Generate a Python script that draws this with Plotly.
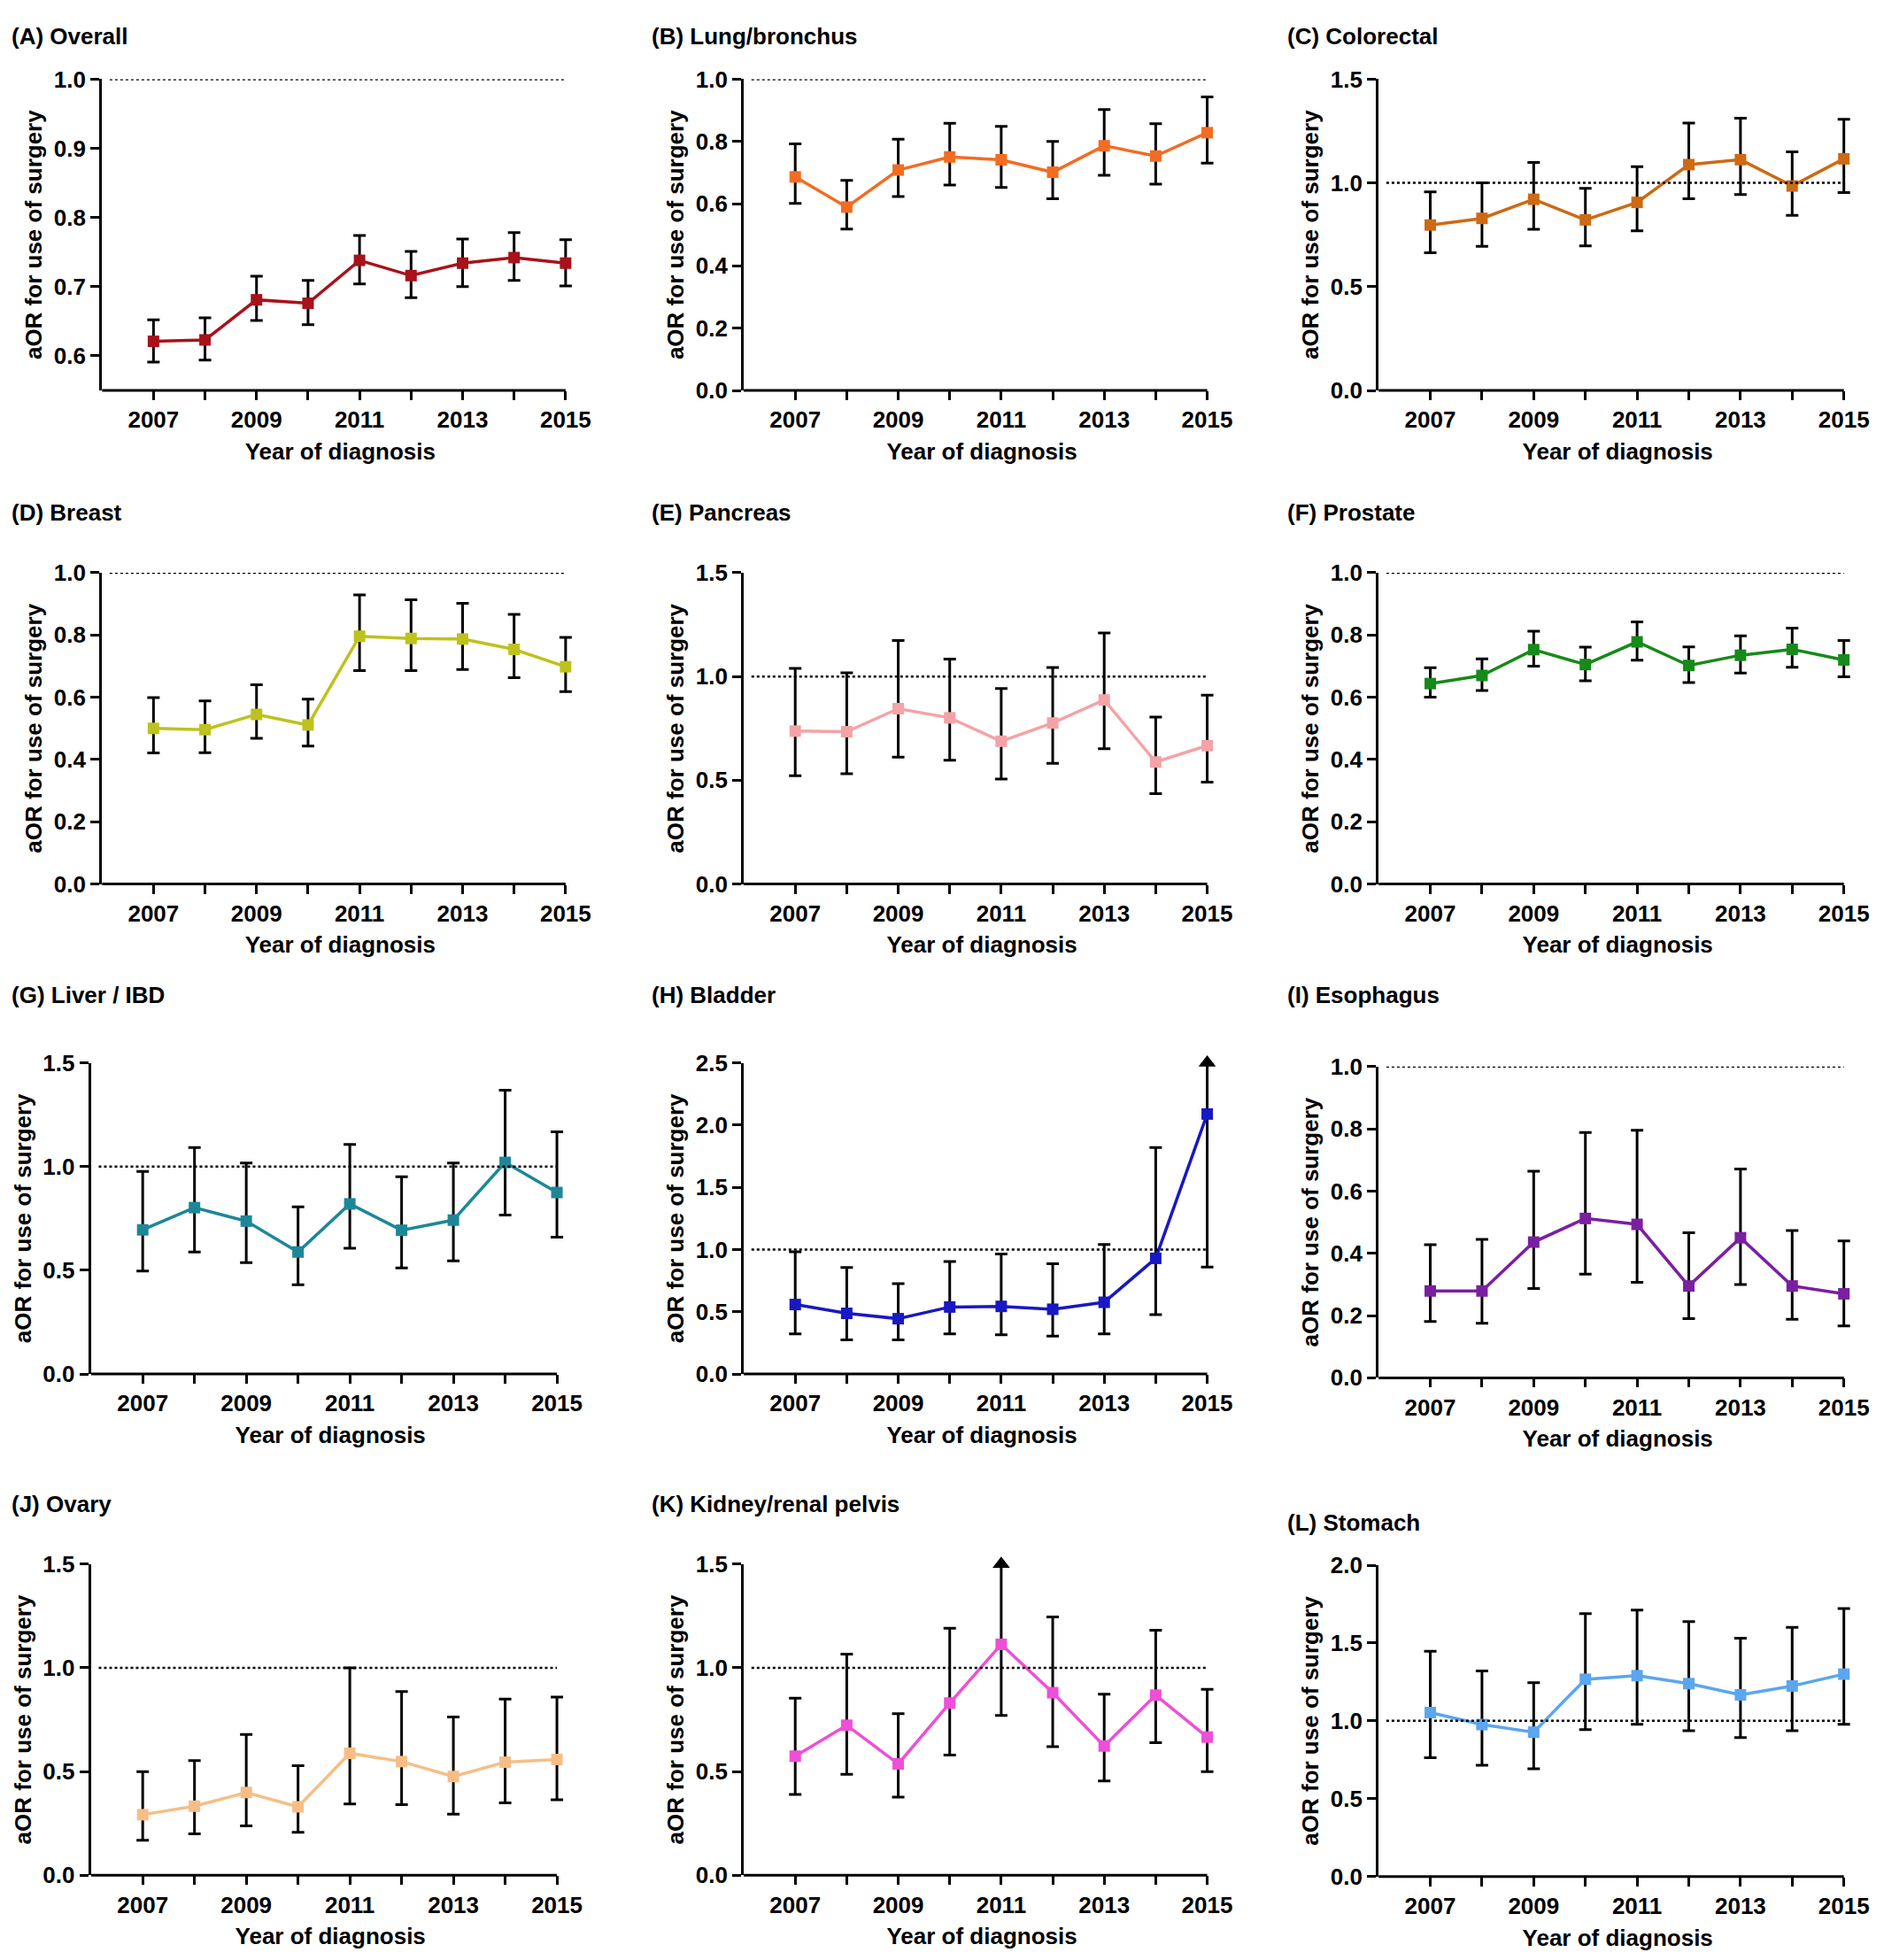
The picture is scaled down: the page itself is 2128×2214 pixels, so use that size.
import plotly.graph_objects as go
from plotly.subplots import make_subplots

years = [2007, 2008, 2009, 2010, 2011, 2012, 2013, 2014, 2015]
year_labels = ["2007", "", "2009", "", "2011", "", "2013", "", "2015"]

# aOR with 95% CI (None = upper limit off the scale)
overall_aor = [0.621, 0.623, 0.681, 0.676, 0.738, 0.716, 0.734, 0.742, 0.734]
overall_lo = [0.591, 0.594, 0.651, 0.645, 0.704, 0.684, 0.700, 0.709, 0.701]
overall_hi = [0.652, 0.655, 0.715, 0.709, 0.774, 0.751, 0.769, 0.778, 0.768]

lung_aor = [0.686, 0.589, 0.708, 0.750, 0.741, 0.701, 0.786, 0.753, 0.828]
lung_lo = [0.601, 0.518, 0.623, 0.660, 0.652, 0.616, 0.691, 0.663, 0.730]
lung_hi = [0.792, 0.675, 0.807, 0.858, 0.848, 0.800, 0.902, 0.857, 0.943]

colorectal_aor = [0.797, 0.829, 0.921, 0.822, 0.906, 1.088, 1.112, 0.985, 1.116]
colorectal_lo = [0.663, 0.694, 0.776, 0.697, 0.769, 0.924, 0.944, 0.844, 0.953]
colorectal_hi = [0.957, 1.000, 1.099, 0.974, 1.078, 1.288, 1.312, 1.150, 1.306]

breast_aor = [0.500, 0.496, 0.545, 0.511, 0.796, 0.789, 0.787, 0.754, 0.698]
breast_lo = [0.421, 0.422, 0.468, 0.443, 0.686, 0.686, 0.689, 0.663, 0.618]
breast_hi = [0.599, 0.588, 0.640, 0.594, 0.929, 0.913, 0.902, 0.866, 0.792]

pancreas_aor = [0.737, 0.734, 0.845, 0.801, 0.688, 0.776, 0.887, 0.588, 0.667]
pancreas_lo = [0.522, 0.531, 0.612, 0.597, 0.506, 0.582, 0.652, 0.436, 0.491]
pancreas_hi = [1.039, 1.018, 1.173, 1.084, 0.942, 1.043, 1.210, 0.804, 0.910]

prostate_aor = [0.644, 0.670, 0.753, 0.705, 0.778, 0.702, 0.735, 0.754, 0.720]
prostate_lo = [0.600, 0.622, 0.700, 0.653, 0.719, 0.647, 0.678, 0.696, 0.666]
prostate_hi = [0.695, 0.723, 0.812, 0.761, 0.842, 0.762, 0.797, 0.822, 0.782]

liver_aor = [0.695, 0.802, 0.737, 0.588, 0.820, 0.693, 0.742, 1.020, 0.875]
liver_lo = [0.496, 0.588, 0.537, 0.430, 0.606, 0.511, 0.545, 0.766, 0.660]
liver_hi = [0.977, 1.092, 1.017, 0.806, 1.107, 0.951, 1.017, 1.368, 1.168]

bladder_aor = [0.558, 0.487, 0.444, 0.538, 0.543, 0.520, 0.576, 0.929, 2.089]
bladder_lo = [0.322, 0.274, 0.274, 0.322, 0.315, 0.305, 0.322, 0.477, 0.860]
bladder_hi = [0.982, 0.855, 0.726, 0.904, 0.964, 0.886, 1.041, 1.820, None]

esophagus_aor = [0.279, 0.279, 0.436, 0.512, 0.493, 0.295, 0.450, 0.295, 0.270]
esophagus_lo = [0.181, 0.175, 0.287, 0.333, 0.307, 0.190, 0.300, 0.188, 0.167]
esophagus_hi = [0.428, 0.445, 0.664, 0.788, 0.795, 0.466, 0.671, 0.473, 0.440]

ovary_aor = [0.292, 0.333, 0.399, 0.330, 0.588, 0.548, 0.476, 0.545, 0.558]
ovary_lo = [0.169, 0.200, 0.238, 0.207, 0.344, 0.341, 0.295, 0.349, 0.364]
ovary_hi = [0.499, 0.553, 0.679, 0.528, 1.000, 0.886, 0.763, 0.849, 0.859]

kidney_aor = [0.574, 0.723, 0.537, 0.830, 1.113, 0.880, 0.623, 0.868, 0.666]
kidney_lo = [0.390, 0.487, 0.377, 0.579, 0.770, 0.620, 0.455, 0.639, 0.500]
kidney_hi = [0.854, 1.066, 0.779, 1.191, None, 1.245, 0.873, 1.181, 0.896]

stomach_aor = [1.053, 0.976, 0.927, 1.267, 1.290, 1.239, 1.167, 1.224, 1.300]
stomach_lo = [0.763, 0.714, 0.692, 0.943, 0.978, 0.937, 0.892, 0.937, 0.978]
stomach_hi = [1.447, 1.320, 1.245, 1.688, 1.712, 1.637, 1.531, 1.600, 1.722]

FONT = "Liberation Sans, Arial, sans-serif"
BOLD = dict(family=FONT, size=26, color="black", weight="bold")

# letter, name, series, colour, y range, dtick, row, col
panels = [
    ("A", "Overall", overall_aor, overall_lo, overall_hi, "#A8121A", (0.55, 1.0), 0.1, 1, 1),
    ("B", "Lung/bronchus", lung_aor, lung_lo, lung_hi, "#F36C21", (0, 1.0), 0.2, 1, 2),
    ("C", "Colorectal", colorectal_aor, colorectal_lo, colorectal_hi, "#CD6A13", (0, 1.5), 0.5, 1, 3),
    ("D", "Breast", breast_aor, breast_lo, breast_hi, "#BDC21C", (0, 1.0), 0.2, 2, 1),
    ("E", "Pancreas", pancreas_aor, pancreas_lo, pancreas_hi, "#F4A3A6", (0, 1.5), 0.5, 2, 2),
    ("F", "Prostate", prostate_aor, prostate_lo, prostate_hi, "#168A1A", (0, 1.0), 0.2, 2, 3),
    ("G", "Liver / IBD", liver_aor, liver_lo, liver_hi, "#1D8798", (0, 1.5), 0.5, 3, 1),
    ("H", "Bladder", bladder_aor, bladder_lo, bladder_hi, "#1818C4", (0, 2.5), 0.5, 3, 2),
    ("I", "Esophagus", esophagus_aor, esophagus_lo, esophagus_hi, "#7B1FA2", (0, 1.0), 0.2, 3, 3),
    ("J", "Ovary", ovary_aor, ovary_lo, ovary_hi, "#F6BE86", (0, 1.5), 0.5, 4, 1),
    ("K", "Kidney/renal pelvis", kidney_aor, kidney_lo, kidney_hi, "#EE4FD6", (0, 1.5), 0.5, 4, 2),
    ("L", "Stomach", stomach_aor, stomach_lo, stomach_hi, "#5BA6EE", (0, 2.0), 0.5, 4, 3),
]

X_END = 2015.25  # a little room so the last whisker is not clipped

# panel placement (paper fractions), x domain runs 2006 -> X_END
x_dom = {
    "top1": [0.0507, 0.3053], "bot1": [0.0448, 0.3007],
    2: [0.3936, 0.6481], 3: [0.7328, 0.9883],
}
y_dom = {1: [0.8086, 0.9696], 2: [0.5533, 0.7143], 3: [0.2999, 0.4608], 4: [0.0406, 0.2016]}
title_x = {1: 0.0013, 2: 0.3435, 3: 0.6830}
title_y = {1: 0.9995, 2: 0.7453, 3: 0.4957, 4: 0.2327}

fig = make_subplots(rows=4, cols=3)

for letter, name, aor, lo, hi, color, yr, dt, r, c in panels:
    top = [h if h is not None else yr[1] for h in hi]
    # CI whiskers underneath
    fig.add_trace(go.Scatter(
        x=years, y=aor, mode="markers",
        marker=dict(size=1, color="rgba(0,0,0,0)"),
        error_y=dict(type="data", symmetric=False,
                     array=[t - a for t, a in zip(top, aor)],
                     arrayminus=[a - l for a, l in zip(aor, lo)],
                     color="black", thickness=3, width=7),
        cliponaxis=False, showlegend=False, hoverinfo="skip"), row=r, col=c)
    # arrows for upper limits beyond the axis
    off = [y for y, h in zip(years, hi) if h is None]
    if off:
        fig.add_trace(go.Scatter(
            x=off, y=[yr[1]] * len(off), mode="markers",
            marker=dict(symbol="triangle-up", size=17, color="black"),
            cliponaxis=False, showlegend=False), row=r, col=c)
    fig.add_trace(go.Scatter(
        x=years, y=aor, mode="lines+markers",
        line=dict(color=color, width=3.5),
        marker=dict(symbol="square", size=13, color=color),
        cliponaxis=False, showlegend=False), row=r, col=c)

    # reference line at aOR = 1
    fig.add_shape(type="line", xref="x", x0=2006.15, x1=years[-1],
                  yref="y", y0=1, y1=1,
                  line=dict(color="black", width=2.5, dash="dot"),
                  row=r, col=c)
    # x axis line, stopping at the last year
    fig.add_shape(type="line", xref="x", x0=2006, x1=years[-1],
                  yref="y domain", y0=0, y1=0,
                  line=dict(color="black", width=3),
                  row=r, col=c)

    if c == 1:
        xd = x_dom["top1"] if r <= 2 else x_dom["bot1"]
    else:
        xd = x_dom[c]
    yd = y_dom[r]
    if letter == "I":
        yd = [0.2979, 0.4589]
    if letter == "L":
        yd = [0.0400, 0.2010]
    fig.update_xaxes(domain=xd, range=[2006, X_END],
                     tickvals=years, ticktext=year_labels,
                     title=dict(text="Year of diagnosis", standoff=12, font=BOLD),
                     row=r, col=c)
    fig.update_yaxes(domain=yd, range=list(yr), dtick=dt, tick0=0,
                     tickformat=".1f",
                     title=dict(text="aOR for use of surgery", standoff=6, font=BOLD),
                     row=r, col=c)

    ty = 0.2230 if letter == "L" else title_y[r]
    fig.add_annotation(text="<b>(%s)</b> <b>%s</b>" % (letter, name),
                       xref="paper", yref="paper", x=title_x[c], y=ty,
                       xanchor="left", yanchor="top" if r == 1 else "middle",
                       showarrow=False,
                       font=dict(family=FONT, size=26, color="black"))

fig.update_xaxes(showline=False, ticks="outside",
                 ticklen=10, tickwidth=3, tickcolor="black", showgrid=False, zeroline=False,
                 tickfont=BOLD)
fig.update_yaxes(showline=True, linewidth=3, linecolor="black", ticks="outside",
                 ticklen=10, tickwidth=3, tickcolor="black", showgrid=False, zeroline=False,
                 tickfont=BOLD)

fig.update_layout(width=2128, height=2214, margin=dict(l=0, r=0, t=0, b=0),
                  plot_bgcolor="white", paper_bgcolor="white",
                  font=dict(family=FONT, color="black"))

fig.write_html("out.html")
